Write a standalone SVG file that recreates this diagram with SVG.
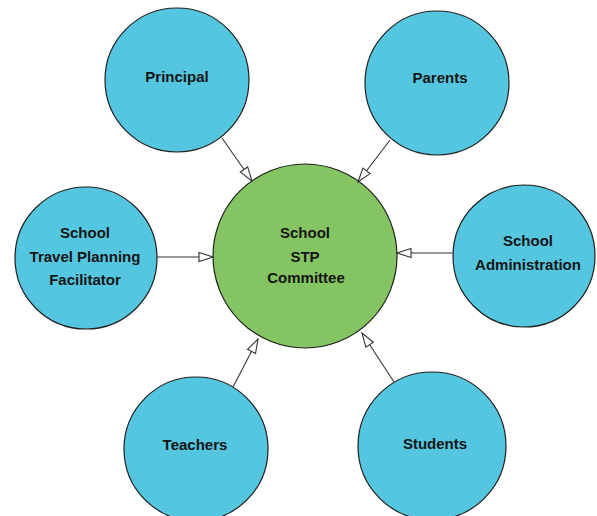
<svg xmlns="http://www.w3.org/2000/svg" width="597" height="516" viewBox="0 0 597 516">
<style>
.node{fill:#55C6DF;stroke:#1e1e1e;stroke-width:1.2}
.center{fill:#84C462;stroke:#1e1e1e;stroke-width:1.2}
.lbl{font-family:"Liberation Sans",Arial,sans-serif;font-weight:bold;font-size:15px;fill:#151515;text-anchor:middle}
.conn{stroke:#333;stroke-width:1.1;fill:none;marker-end:url(#arr)}
</style>
<defs>
<marker id="arr" markerUnits="userSpaceOnUse" markerWidth="16" markerHeight="12" viewBox="0 0 16 12" refX="15" refY="6" orient="auto">
<path d="M1,1.5 L15,6 L1,10.5 Z" fill="#fff" stroke="#333" stroke-width="1.1"/>
</marker>
</defs>
<rect width="597" height="516" fill="#fff"/>
<g id="n-committee"><circle class="center" cx="305" cy="256" r="92"/>
<text class="lbl" x="305" y="238">School</text><text class="lbl" x="305" y="262">STP</text><text class="lbl" x="306" y="283">Committee</text></g>
<g id="n-principal"><circle class="node" cx="177" cy="80" r="72"/><text class="lbl" x="177" y="82">Principal</text></g>
<g id="n-parents"><circle class="node" cx="437" cy="83" r="72"/><text class="lbl" x="440" y="83">Parents</text></g>
<g id="n-facilitator"><circle class="node" cx="86" cy="258" r="71"/>
<text class="lbl" x="85" y="238">School</text><text class="lbl" x="85" y="262">Travel Planning</text><text class="lbl" x="85" y="285">Facilitator</text></g>
<g id="n-admin"><circle class="node" cx="524" cy="256" r="71"/>
<text class="lbl" x="528" y="246">School</text><text class="lbl" x="528" y="270">Administration</text></g>
<g id="n-teachers"><circle class="node" cx="196" cy="449" r="72"/><text class="lbl" x="195" y="450">Teachers</text></g>
<g id="n-students"><circle class="node" cx="432" cy="446" r="74"/><text class="lbl" x="435" y="449">Students</text></g>
<g id="connectors">
<line class="conn" x1="222" y1="138" x2="252" y2="181"/>
<line class="conn" x1="390" y1="140" x2="358" y2="182"/>
<line class="conn" x1="157" y1="257" x2="213" y2="257"/>
<line class="conn" x1="453" y1="253" x2="397" y2="253"/>
<line class="conn" x1="233" y1="387" x2="258" y2="339"/>
<line class="conn" x1="394" y1="382" x2="362" y2="333"/>
</g>
</svg>
